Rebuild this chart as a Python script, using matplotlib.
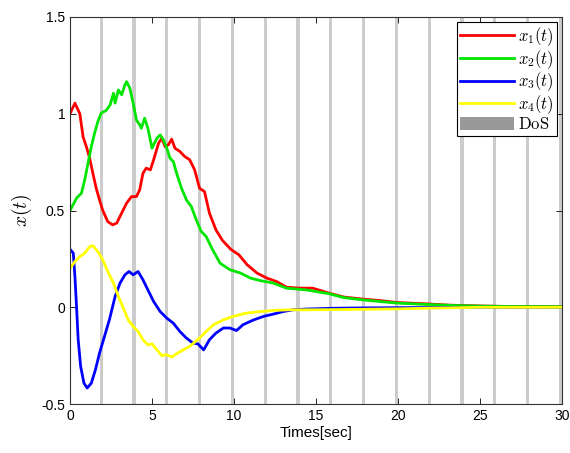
import numpy as np
import matplotlib
matplotlib.use('Agg')
import matplotlib.pyplot as plt
from matplotlib.patches import Patch
from matplotlib.lines import Line2D

# durum x1
t1 = [0, 0.3, 0.6, 0.8, 1.0, 1.2, 1.4, 1.6, 1.8, 2.0, 2.3, 2.6, 2.85, 3.15, 3.45, 3.75,
      4.05, 4.25, 4.45, 4.65, 4.9, 5.1, 5.4, 5.6, 5.8, 6.0, 6.2, 6.4, 6.7, 7.0, 7.3, 7.6,
      7.9, 8.2, 8.5, 8.9, 9.3, 9.8, 10.3, 10.8, 11.4, 12.0, 12.6, 13.2, 14.0, 14.8, 15.8,
      16.7, 17.9, 18.9, 19.9, 21.7, 23.2, 25, 27, 30]
x1 = [1.0, 1.055, 1.0, 0.88, 0.83, 0.77, 0.69, 0.615, 0.555, 0.5, 0.443, 0.426, 0.435,
      0.487, 0.538, 0.572, 0.572, 0.607, 0.693, 0.719, 0.71, 0.762, 0.848, 0.874, 0.83,
      0.84, 0.869, 0.822, 0.805, 0.779, 0.762, 0.71, 0.615, 0.598, 0.487, 0.4, 0.345, 0.3,
      0.271, 0.22, 0.177, 0.151, 0.133, 0.104, 0.099, 0.099, 0.073, 0.053, 0.042, 0.035,
      0.025, 0.018, 0.011, 0.007, 0.004, 0.003]

# durum x2
t2 = [0, 0.4, 0.7, 0.9, 1.1, 1.3, 1.5, 1.7, 1.9, 2.2, 2.45, 2.65, 2.75, 2.95, 3.15, 3.35,
      3.45, 3.65, 3.85, 4.05, 4.25, 4.35, 4.55, 4.75, 5.0, 5.3, 5.5, 5.7, 5.9, 6.1, 6.3,
      6.5, 6.8, 7.1, 7.4, 7.7, 8.0, 8.3, 8.7, 9.15, 9.75, 10.4, 11.0, 11.6, 12.4, 13.2,
      14.4, 15.8, 16.7, 17.9, 18.9, 19.9, 21.7, 23.2, 25, 27, 30]
x2 = [0.5, 0.564, 0.59, 0.659, 0.745, 0.83, 0.9, 0.96, 1.003, 1.017, 1.046, 1.106, 1.055,
      1.123, 1.098, 1.149, 1.166, 1.132, 1.055, 0.968, 0.943, 0.925, 0.977, 0.925, 0.822,
      0.874, 0.891, 0.865, 0.822, 0.77, 0.753, 0.693, 0.615, 0.555, 0.52, 0.452, 0.392,
      0.366, 0.297, 0.228, 0.194, 0.177, 0.151, 0.138, 0.125, 0.099, 0.09, 0.07, 0.05,
      0.038, 0.03, 0.022, 0.015, 0.01, 0.006, 0.004, 0.003]

# durum x3
t3 = [0, 0.2, 0.3, 0.4, 0.5, 0.65, 0.85, 1.05, 1.3, 1.55, 1.8, 2.1, 2.4, 2.75, 3.05, 3.35,
      3.6, 3.85, 4.15, 4.45, 4.75, 5.1, 5.5, 5.9, 6.3, 6.7, 7.1, 7.5, 7.8, 8.15, 8.5, 8.9,
      9.35, 9.75, 10.15, 10.55, 11.2, 11.8, 12.4, 13.0, 13.6, 14.4, 16, 18, 20, 22, 25, 30]
x3 = [0.3, 0.28, 0.16, 0.0, -0.168, -0.306, -0.392, -0.417, -0.392, -0.323, -0.237,
      -0.151, -0.065, 0.056, 0.125, 0.168, 0.185, 0.168, 0.185, 0.142, 0.09, 0.03, -0.022,
      -0.056, -0.082, -0.125, -0.159, -0.185, -0.189, -0.22, -0.168, -0.133, -0.107,
      -0.107, -0.12, -0.09, -0.065, -0.047, -0.035, -0.022, -0.013, -0.009, -0.005,
      -0.003, -0.002, -0.001, 0.0, 0.0]

# durum x4
t4 = [0, 0.3, 0.6, 0.9, 1.2, 1.4, 1.7, 2.0, 2.3, 2.65, 2.95, 3.25, 3.55, 3.85, 4.15, 4.45,
      4.75, 5.0, 5.3, 5.6, 5.9, 6.2, 6.5, 6.9, 7.3, 7.9, 8.3, 8.75, 9.35, 9.95, 10.75,
      11.6, 12.4, 13.4, 14.4, 16, 18, 20, 22, 25, 30]
x4 = [0.2, 0.237, 0.262, 0.28, 0.314, 0.318, 0.288, 0.245, 0.185, 0.125, 0.056, -0.004,
      -0.065, -0.099, -0.125, -0.168, -0.194, -0.189, -0.22, -0.25, -0.245, -0.257, -0.24,
      -0.22, -0.202, -0.159, -0.125, -0.09, -0.065, -0.047, -0.03, -0.022, -0.016, -0.013,
      -0.013, -0.012, -0.01, -0.008, -0.004, 0.0, 0.0]

# DoS araliklari (baslangic, bitis)
dos_start = [1.8, 3.8, 5.8, 7.8, 9.8, 11.8, 13.8, 15.8, 17.8, 19.8, 21.8, 23.8, 25.8, 27.8, 29.8]
dos_end = [2.0, 4.0, 6.0, 8.0, 10.0, 12.0, 14.0, 16.0, 18.0, 20.0, 22.0, 24.0, 26.0, 28.0, 30.0]

labels = [r'$x_1(t)$', r'$x_2(t)$', r'$x_3(t)$', r'$x_4(t)$']
renkler = ['#ff0000', '#00e600', '#0000ff', '#ffff00']

plt.rcParams['font.family'] = ['Liberation Sans', 'DejaVu Sans']
plt.rcParams['mathtext.fontset'] = 'cm'

fig = plt.figure(figsize=(5.7, 4.53), dpi=100)
ax = fig.add_axes([0.1228, 0.108, 0.8632, 0.8545])

for a, b in zip(dos_start, dos_end):
    ax.axvspan(a, b, color='#cccccc', lw=0, zorder=0)

for t, x, c in zip([t1, t2, t3, t4], [x1, x2, x3, x4], renkler):
    ax.plot(t, x, color=c, lw=2, zorder=2)

ax.set_xlim(0, 30)
ax.set_ylim(-0.5, 1.5)
ax.set_xticks(np.arange(0, 31, 5))
ax.set_yticks([-0.5, 0, 0.5, 1, 1.5])
ax.set_yticklabels(['-0.5', '0', '0.5', '1', '1.5'])
ax.tick_params(direction='in', length=4, top=True, right=True, labelsize=10, width=0.6)
for s in ax.spines.values():
    s.set_color('#333333')
    s.set_linewidth(0.8)

ax.set_xlabel('Times[sec]', fontsize=11, labelpad=2)
ax.set_ylabel(r'$x(t)$', fontsize=14, labelpad=5)

handles = [Line2D([], [], color=c, lw=2) for c in renkler]
handles.append(Patch(facecolor='#999999', edgecolor='none'))
leg = ax.legend(handles, labels + [r'$\mathrm{DoS}$'], loc='upper right', fontsize=12,
                frameon=True, fancybox=False, framealpha=1, edgecolor='black',
                labelspacing=0.0, handlelength=3.2, handletextpad=0.25,
                handleheight=0.8, borderpad=0.2, borderaxespad=0.3)
leg.get_frame().set_linewidth(0.8)

fig.savefig('out.png', dpi=100)
